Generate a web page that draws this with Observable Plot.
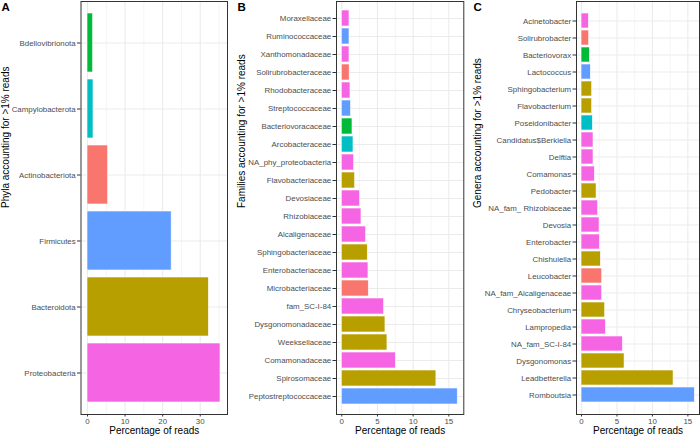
<!DOCTYPE html>
<html>
<head>
<meta charset="utf-8">
<script src="https://cdn.jsdelivr.net/npm/d3@7"></script>
<script src="https://cdn.jsdelivr.net/npm/@observablehq/plot@0.6"></script>
<style>
  html, body { margin: 0; padding: 0; background: #fff; }
  #wrap { position: relative; width: 700px; height: 438px; overflow: hidden; font-family: "Liberation Sans", Arial, sans-serif; }
  #wrap > svg { position: absolute; top: 0; }
</style>
</head>
<body>
<div id="wrap"></div>
<script>
// ---- Data ----
const phylumNames = ["Actinobacteriota", "Bacteroidota", "Bdellovibrionota", "Campylobacterota", "Firmicutes", "Proteobacteria"];
const phylumColors = ["#F8766D", "#B79F00", "#00BA38", "#00BFC4", "#619CFF", "#F564E3"];

// Panel A (top to bottom)
const phyla = ["Bdellovibrionota", "Campylobacterota", "Actinobacteriota", "Firmicutes", "Bacteroidota", "Proteobacteria"];
const phylaValues = [1.5, 1.6, 5.5, 22.4, 32.3, 35.4];

// Panel B (top to bottom)
const families = ["Moraxellaceae", "Ruminococcaceae", "Xanthomonadaceae", "Solirubrobacteraceae", "Rhodobacteraceae",
  "Streptococcaceae", "Bacteriovoracaceae", "Arcobacteraceae", "NA_phy_proteobacteria", "Flavobacteriaceae",
  "Devosiaceae", "Rhizobiaceae", "Alcaligenaceae", "Sphingobacteriaceae", "Enterobacteriaceae",
  "Microbacteriaceae", "fam_SC-I-84", "Dysgonomonadaceae", "Weeksellaceae", "Comamonadaceae",
  "Spirosomaceae", "Peptostreptococcaceae"];
const familyValues = [1.08, 1.08, 1.08, 1.1, 1.22, 1.3, 1.5, 1.64, 1.73, 1.87, 2.57, 2.76, 3.41, 3.64, 3.74, 3.78,
  5.93, 6.12, 6.4, 7.57, 13.26, 16.25];
const familyPhylum = ["Proteobacteria", "Firmicutes", "Proteobacteria", "Actinobacteriota", "Proteobacteria",
  "Firmicutes", "Bdellovibrionota", "Campylobacterota", "Proteobacteria", "Bacteroidota",
  "Proteobacteria", "Proteobacteria", "Proteobacteria", "Bacteroidota", "Proteobacteria",
  "Actinobacteriota", "Proteobacteria", "Bacteroidota", "Bacteroidota", "Proteobacteria",
  "Bacteroidota", "Firmicutes"];

// Panel C (top to bottom)
const genera = ["Acinetobacter", "Solirubrobacter", "Bacteriovorax", "Lactococcus", "Sphingobacterium",
  "Flavobacterium", "Poseidonibacter", "Candidatus$Berkiella", "Delftia", "Comamonas", "Pedobacter",
  "NA_fam_ Rhizobiaceae", "Devosia", "Enterobacter", "Chishuiella", "Leucobacter", "NA_fam_Alcaligenaceae",
  "Chryseobacterium", "Lampropedia", "NA_fam_SC-I-84", "Dysgonomonas", "Leadbetterella", "Romboutsia"];
const generaValues = [1.03, 1.08, 1.17, 1.31, 1.5, 1.5, 1.6, 1.69, 1.69, 1.88, 2.12, 2.35, 2.54, 2.59, 2.73,
  2.92, 2.92, 3.34, 3.43, 5.83, 6.07, 12.98, 15.98];
const generaPhylum = ["Proteobacteria", "Actinobacteriota", "Bdellovibrionota", "Firmicutes", "Bacteroidota",
  "Bacteroidota", "Campylobacterota", "Proteobacteria", "Proteobacteria", "Proteobacteria", "Bacteroidota",
  "Proteobacteria", "Proteobacteria", "Proteobacteria", "Bacteroidota", "Actinobacteriota", "Proteobacteria",
  "Bacteroidota", "Proteobacteria", "Proteobacteria", "Bacteroidota", "Bacteroidota", "Firmicutes"];

// Axis ticks
const ticksA = [0, 10, 20, 30];
const minorA = [5, 15, 25, 35];
const ticksBC = [0, 5, 10, 15];
const minorBC = [2.5, 7.5, 12.5];

const xTitle = "Percentage of reads";

// ---- Drawing ----
const FONT = "'Liberation Sans', Arial, sans-serif";

function panel({names, values, phylumOf, left, width, marginLeft, marginRight, xDomain, ticks, minor, yTitle, yTitleDx, tag, tagDx}) {
  const rows = names.map((n, i) => ({name: n, value: values[i], phylum: phylumOf[i]}));
  const svg = Plot.plot({
    width, height: 438,
    marginLeft, marginRight, marginTop: 1, marginBottom: 24,
    style: {fontFamily: FONT, background: "white", overflow: "visible"},
    x: {domain: xDomain},
    y: {domain: names, paddingInner: 0.1, paddingOuter: 0.15, align: 0.5},
    color: {domain: phylumNames, range: phylumColors},
    marks: [
      Plot.gridX(minor, {stroke: "#ebebeb", strokeOpacity: 1, strokeWidth: 0.55}),
      Plot.gridX(ticks, {stroke: "#ebebeb", strokeOpacity: 1, strokeWidth: 1.1}),
      Plot.gridY({stroke: "#ebebeb", strokeOpacity: 1, strokeWidth: 1.1}),
      Plot.barX(rows, {x: "value", y: "name", fill: "phylum", stroke: "white", strokeWidth: 0.6}),
      Plot.frame({stroke: "#333333", strokeWidth: 1}),
      Plot.axisX(ticks, {tickSize: 2.5, tickPadding: 1.3, fontSize: 7.9, fill: "#4d4d4d", stroke: "#333333", label: null}),
      Plot.axisY({tickSize: 3.5, tickPadding: 1.8, fontSize: 7.9, fill: "#4d4d4d", stroke: "#333333", label: null}),
      Plot.text([xTitle], {frameAnchor: "bottom", dy: 19, fontSize: 10, fill: "black"}),
      Plot.text([yTitle], {frameAnchor: "left", rotate: -90, dx: yTitleDx, fontSize: 10, fill: "black"}),
      Plot.text([tag], {frameAnchor: "top-left", textAnchor: "start", lineAnchor: "top", dx: tagDx, dy: 1.5, fontSize: 11.5, fontWeight: "bold", fill: "black"})
    ]
  });
  svg.style.left = left + "px";
  document.getElementById("wrap").appendChild(svg);
}

panel({names: phyla, values: phylaValues, phylumOf: phyla, left: 0, width: 232, marginLeft: 80.5, marginRight: 5,
  xDomain: [-1.73, 37.26], ticks: ticksA, minor: minorA,
  yTitle: "Phyla accounting for >1% reads", yTitleDx: -75.5, tag: "A", tagDx: -79.5});

panel({names: families, values: familyValues, phylumOf: familyPhylum, left: 232, width: 233, marginLeft: 104, marginRight: 1.7,
  xDomain: [-0.74, 17.1], ticks: ticksBC, minor: minorBC,
  yTitle: "Families accounting for >1% reads", yTitleDx: -95, tag: "B", tagDx: -99});

panel({names: genera, values: generaValues, phylumOf: generaPhylum, left: 465, width: 235, marginLeft: 111, marginRight: 1,
  xDomain: [-0.71, 16.64], ticks: ticksBC, minor: minorBC,
  yTitle: "Genera accounting for >1% reads", yTitleDx: -99, tag: "C", tagDx: -103});
</script>
</body>
</html>
